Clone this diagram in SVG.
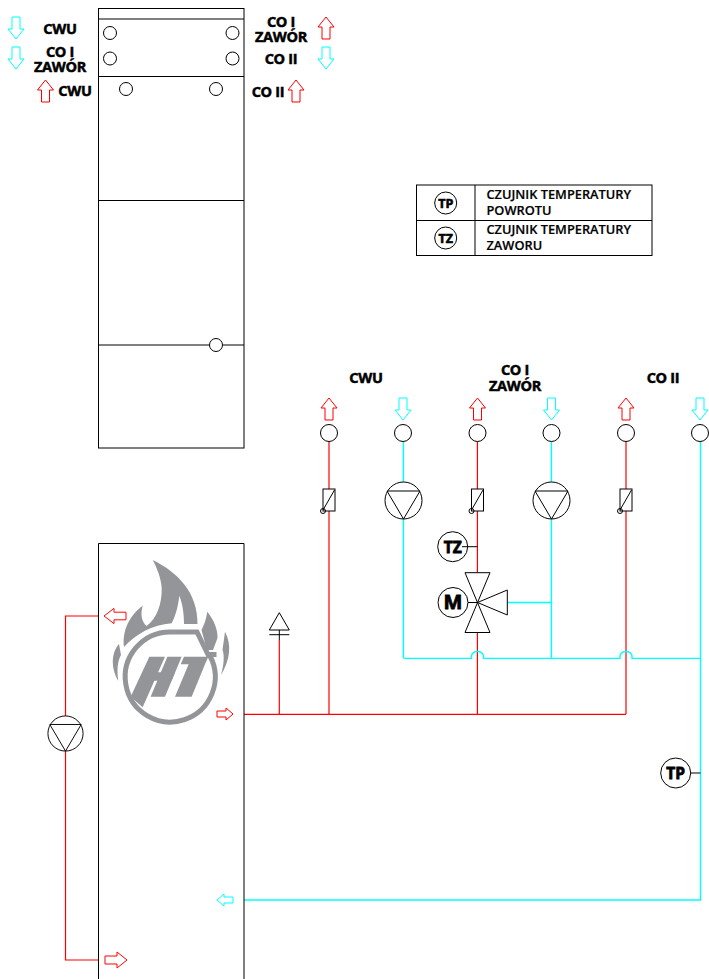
<svg xmlns="http://www.w3.org/2000/svg" width="709" height="979" viewBox="0 0 709 979">
<style>
.k{fill:none;stroke:#000;stroke-width:1}
.c{fill:#fff;stroke:#000;stroke-width:1}
.r{fill:none;stroke:#f00;stroke-width:1.2}
.y{fill:none;stroke:#0ff;stroke-width:1.4}
.ar{fill:#fff;stroke:#f00;stroke-width:1}
.ay{fill:#fff;stroke:#0ff;stroke-width:1}
text{font-family:"Open Sans","Liberation Sans",sans-serif;font-weight:700;fill:#000;stroke:#000;stroke-width:.5}
.l{font-size:14.5px;text-anchor:middle;letter-spacing:-.3px}
.s{font-size:15.5px;text-anchor:middle;stroke-width:.8}
.g{font-size:12.8px;font-weight:600;stroke-width:.2}
.t{font-size:12.5px;text-anchor:middle;stroke-width:.6}
.logo{fill:#939598;stroke:none}
</style>
<defs>
<path id="a" d="M0,-11 L8,-1 L4,-1 L4,11 L-4,11 L-4,-1 L-8,-1 Z"/>
<path id="b" d="M0,-8 L6,-1 L3,-1 L3,8 L-3,8 L-3,-1 L-6,-1 Z"/>
<g id="pump"><circle class="c" r="18.5"/><path class="k" d="M-16.5,-9.5 H16.5 L0,18.5 Z"/></g>
<g id="sensor"><rect class="c" x="-6" y="-11" width="12" height="22"/><path class="k" d="M-6,10 L5.5,-10"/><circle class="k" cx="-6" cy="11" r="2.5"/></g>
</defs>

<g id="connectors">
<path class="r" d="M329,441 V714"/>
<path class="r" d="M477.4,441 V572.5 M477.4,632.5 V714"/>
<path class="r" d="M626,441 V714"/>
<path class="r" d="M244,714.3 H626"/>
<path class="r" d="M279.3,714 V640"/>
<path class="k" d="M279.3,640 V630"/>
<path class="r" d="M98,616 H65.5 V716 M65.5,751 V960 H98"/>
<path class="y" d="M403.4,441 V482 M403.4,519 V658 M551.4,441 V482 M551.4,519 V658 M507,602.5 H551.4"/>
<path class="y" d="M403.4,658.4 H471.5 V656 A6,4.5 0 0 1 483.5,656 V658.4 H620 V656 A6,4.5 0 0 1 632,656 V658.4 H700.5"/>
<path class="y" d="M700.5,441 V900 H244"/>
<path class="k" d="M462,546.7 H477.5 M468,602.5 H477.5 M691,773 H700.5"/>
</g>

<g id="tank-top">
<rect class="k" x="98.5" y="8.5" width="145.5" height="439.5"/>
<path class="k" d="M98.5,19 H244 M98.5,76.5 H244 M98.5,200.5 H244 M98.5,345 H209.5 M223,345 H244"/>
<circle class="k" cx="110" cy="33" r="6.5"/>
<circle class="k" cx="232.5" cy="33" r="6.5"/>
<circle class="k" cx="110" cy="58.5" r="6.5"/>
<circle class="k" cx="232.5" cy="58.5" r="6.5"/>
<circle class="k" cx="126" cy="89" r="6.5"/>
<circle class="k" cx="216" cy="89" r="6.5"/>
<circle class="k" cx="216" cy="345" r="6.5"/>
</g>

<g id="tank-top-arrows">
<use href="#a" class="ay" transform="translate(16,28) rotate(180)"/>
<use href="#a" class="ay" transform="translate(16,58) rotate(180)"/>
<use href="#a" class="ar" transform="translate(45.5,91)"/>
<use href="#a" class="ar" transform="translate(326,28)"/>
<use href="#a" class="ay" transform="translate(326,58) rotate(180)"/>
<use href="#a" class="ar" transform="translate(296,91)"/>
</g>
<g id="tank-top-labels">
<text class="l" x="60" y="33.5">CWU</text>
<text class="l"><tspan x="60" y="57">CO I</tspan><tspan x="60" y="72">ZAWÓR</tspan></text>
<text class="l" x="75" y="96">CWU</text>
<text class="l"><tspan x="281" y="27">CO I</tspan><tspan x="281" y="42">ZAWÓR</tspan></text>
<text class="l" x="281" y="64">CO II</text>
<text class="l" x="268" y="97">CO II</text>
</g>

<g id="legend">
<rect class="k" x="416.5" y="185" width="235.5" height="70.5"/>
<path class="k" d="M416.5,220.5 H652 M475,185 V255.5"/>
<circle class="k" cx="445.7" cy="203" r="11"/>
<text class="t" x="445.7" y="207.5">TP</text>
<circle class="k" cx="445.7" cy="238" r="11"/>
<text class="t" x="445.7" y="242.5">TZ</text>
<text class="g"><tspan x="486.5" y="198.5">CZUJNIK TEMPERATURY</tspan><tspan x="486.5" y="215">POWROTU</tspan></text>
<text class="g"><tspan x="486.5" y="234">CZUJNIK TEMPERATURY</tspan><tspan x="486.5" y="250">ZAWORU</tspan></text>
</g>

<g id="circuit-labels">
<text class="l" x="366" y="382.5">CWU</text>
<text class="l"><tspan x="515" y="375">CO I</tspan><tspan x="515" y="391">ZAWÓR</tspan></text>
<text class="l" x="663" y="383">CO II</text>
</g>

<g id="port-cwu-out"><use href="#a" class="ar" transform="translate(329,409)"/><circle class="c" cx="329" cy="433" r="8.5"/></g>
<g id="port-cwu-in"><use href="#a" class="ay" transform="translate(403,409) rotate(180)"/><circle class="c" cx="403" cy="433" r="8.5"/></g>
<g id="port-co1-out"><use href="#a" class="ar" transform="translate(477.5,409)"/><circle class="c" cx="477.5" cy="433" r="8.5"/></g>
<g id="port-co1-in"><use href="#a" class="ay" transform="translate(551.5,409) rotate(180)"/><circle class="c" cx="551.5" cy="433" r="8.5"/></g>
<g id="port-co2-out"><use href="#a" class="ar" transform="translate(626,409)"/><circle class="c" cx="626" cy="433" r="8.5"/></g>
<g id="port-co2-in"><use href="#a" class="ay" transform="translate(700,409) rotate(180)"/><circle class="c" cx="700" cy="433" r="8.5"/></g>

<g id="sensor-1"><use href="#sensor" transform="translate(329,500)"/></g>
<g id="sensor-2"><use href="#sensor" transform="translate(477.5,500)"/></g>
<g id="sensor-3"><use href="#sensor" transform="translate(626,500)"/></g>
<g id="pump-1"><use href="#pump" transform="translate(403.5,500.5)"/></g>
<g id="pump-2"><use href="#pump" transform="translate(551.5,500.5)"/></g>
<g id="pump-3"><use href="#pump" transform="translate(65.5,733.5) scale(.95)"/></g>

<g id="sensor-tz"><circle class="k" cx="452.7" cy="546.7" r="15"/><text class="s" x="452.7" y="552.5">TZ</text></g>
<g id="valve">
<path class="k" d="M465,572.7 H490 L465,632.5 H490 Z"/>
<path class="k" d="M477.5,602.5 L507.3,590 V615 Z"/>
<circle class="k" cx="453" cy="602.5" r="15"/><text class="s" x="453" y="609.3" style="font-size:20px">M</text>
</g>
<g id="sensor-tp"><circle class="k" cx="675.7" cy="773" r="15"/><text class="s" x="675.7" y="778.8">TP</text></g>
<g id="expansion-vessel">
<path class="k" d="M279.3,612.7 L289.3,630 H269.3 Z"/>
<path class="k" d="M269.3,634.7 H289.3"/>
</g>

<g id="tank-bottom">
<path class="k" d="M98.5,979 V543.5 H244 V979"/>
<g id="logo">
<path class="logo" d="M152.7,560 C177,572 198,592 197.5,624 L184,624 C184,612 182,602 179.3,595.7 C178,608 175,617 171.7,623.3 C152,625 136,634 124,647 C122,630 130,615 142.7,605.7 C140,615 142,622 146.7,626 C157,618 162,604 161.7,588 C161,578 157,568 152.7,560 Z"/>
<path class="logo" d="M207.3,611.7 C214,620 218,630 217.5,638 L213,650 L207,650 L201.5,630 C204,625 206,620 207.3,611.7 Z"/>
<path class="logo" d="M119,644 C112,652 110,666 118.3,681 C117,672 117,662 121,655 Z"/>
<path class="logo" d="M225,631.7 C232,645 230,660 221,675 C224,665 224.5,655 222.5,650 Z"/>
<path fill="none" stroke="#939598" stroke-width="5" d="M216.5,654.5 H208 L197,632 H170 A45,45 0 1 0 210,656"/>
<g transform="translate(110,630) scale(.3333)">
<path class="logo" d="M118,80 H165 L98,232 L62,200 Z"/>
<path class="logo" d="M130,127 H195 L185,152 H118 Z"/>
<path class="logo" d="M172,80 H215 L165,200 H122 Z"/>
<path class="logo" d="M222,80 H295 L285,103 L245,200 H195 L236,103 H212 Z"/>
</g>
</g>
<use href="#a" class="ar" transform="translate(115,616) rotate(-90) scale(.95,1)"/>
<use href="#b" class="ar" transform="translate(225,714) rotate(90)"/>
<use href="#b" class="ay" transform="translate(225,900) rotate(-90)"/>
<use href="#a" class="ar" transform="translate(116,960) rotate(90)"/>
</g>
</svg>
